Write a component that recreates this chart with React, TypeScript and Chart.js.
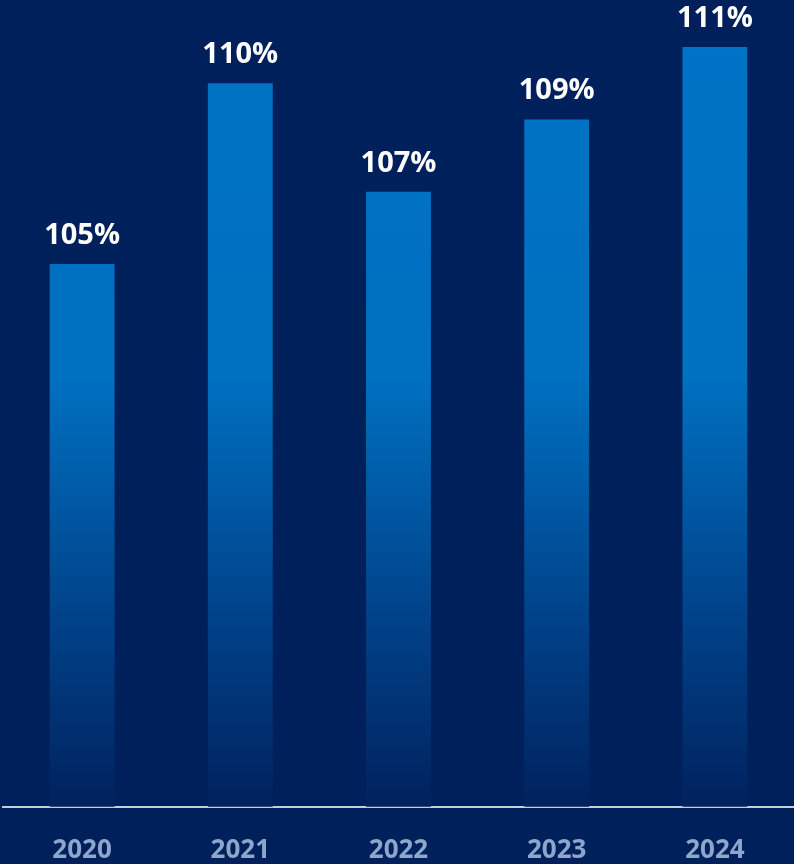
import React, { useEffect, useRef } from "react";
import { Chart, registerables } from "chart.js";

Chart.register(...registerables);

const categories = ["2020", "2021", "2022", "2023", "2024"];
const values = [105, 110, 107, 109, 111];
const valueLabels = ["105%", "110%", "107%", "109%", "111%"];

const BG = "#00205B";
const FONT = "'Open Sans', 'DejaVu Sans', sans-serif";

const labelPlugin = {
  id: "valueLabels",
  afterDatasetsDraw(chart: any) {
    const ctx = chart.ctx;
    const meta = chart.getDatasetMeta(0);
    ctx.save();
    ctx.fillStyle = "#FFFFFF";
    ctx.font = `bold 29px ${FONT}`;
    ctx.textAlign = "center";
    ctx.textBaseline = "alphabetic";
    meta.data.forEach((bar: any, i: number) => {
      ctx.fillText(valueLabels[i], bar.x, bar.y - 20);
    });
    ctx.restore();
  },
};

const bgPlugin = {
  id: "bgFill",
  beforeDraw(chart: any) {
    const ctx = chart.ctx;
    ctx.save();
    ctx.fillStyle = BG;
    ctx.fillRect(0, 0, chart.width, chart.height);
    ctx.restore();
  },
};

export default function App() {
  const ref = useRef<HTMLCanvasElement>(null);
  useEffect(() => {
    document.body.style.margin = "0";
    document.body.style.background = BG;
    const canvas = ref.current!;
    const chart = new Chart(canvas, {
      type: "bar",
      data: {
        labels: categories,
        datasets: [
          {
            data: values,
            backgroundColor: (c: any) => {
              const area = c.chart.chartArea;
              if (!area) return "#0070C0";
              const g = c.chart.ctx.createLinearGradient(0, area.top, 0, area.bottom);
              g.addColorStop(0, "#0073C6");
              g.addColorStop(0.47, "#0070C0");
              g.addColorStop(0.75, "#00448C");
              g.addColorStop(1, "#00225E");
              return g;
            },
            borderWidth: 0,
            barPercentage: 0.41,
            categoryPercentage: 1,
          },
        ],
      },
      options: {
        responsive: false,
        animation: false,
        layout: { padding: { left: 3, right: 0, top: 0, bottom: -22 } },
        plugins: { legend: { display: false }, tooltip: { enabled: false } },
        scales: {
          x: {
            grid: { display: false },
            border: { display: true, color: "#C9CCD6", width: 2 },
            ticks: {
              color: "#8DA6CC",
              font: { family: FONT, size: 26, weight: "bold" },
              padding: 20,
            },
          },
          y: {
            display: false,
            min: 90,
            max: 112.3,
          },
        },
      },
      plugins: [bgPlugin, labelPlugin],
    });
    return () => chart.destroy();
  }, []);
  return (
    <div style={{ width: 794, height: 864, background: BG }}>
      <canvas ref={ref} width={794} height={864} />
    </div>
  );
}
